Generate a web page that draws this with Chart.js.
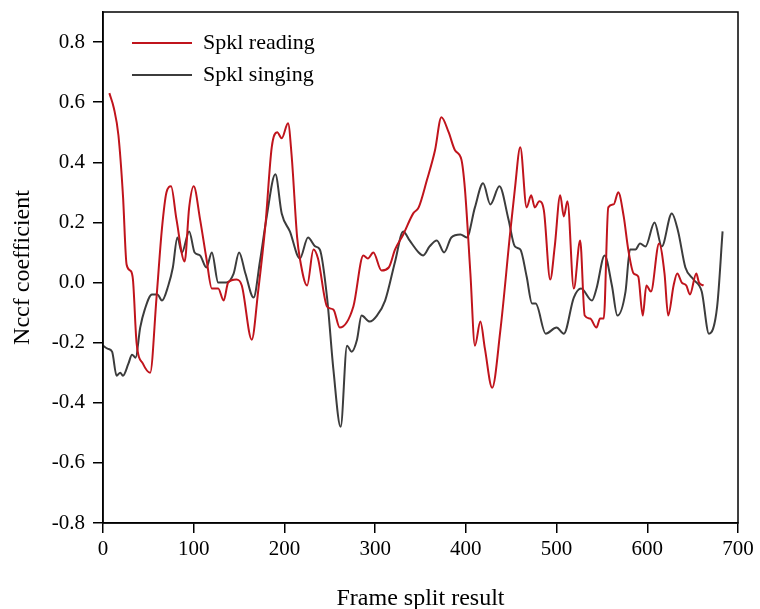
<!DOCTYPE html>
<html>
<head>
<meta charset="utf-8">
<script src="https://cdn.jsdelivr.net/npm/chart.js@4"></script>
<style>
  html, body { margin: 0; padding: 0; background: #fff; }
</style>
</head>
<body>
<canvas id="nccfChart" width="760" height="609"></canvas>
<script>
// frame index and Nccf values
var readingX = [7, 12, 17, 22, 26, 30, 33, 37, 44, 52, 59, 65, 70, 75, 81, 90, 95, 100, 107, 114,
  120, 127, 133, 138, 147, 153, 164, 171, 179, 186, 192, 197, 204, 208, 214, 217, 225, 232, 237, 247,
  254, 261, 276, 287, 292, 298, 307, 315, 322, 331, 342, 348, 357, 366, 373, 381, 388, 395, 399, 405,
  410, 416, 421, 429, 438, 449, 454, 460, 467, 472, 476, 481, 486, 493, 498, 504, 508, 512, 519, 526,
  531, 537, 544, 548, 552, 557, 563, 568, 574, 579, 585, 590, 595, 599, 604, 613, 619, 623, 629, 633,
  638, 643, 647, 654, 657, 662];
var readingY = [0.63, 0.58, 0.49, 0.29, 0.06, 0.04, 0.01, -0.20, -0.27, -0.30, -0.05, 0.18, 0.30, 0.32, 0.21, 0.07, 0.25, 0.32, 0.21, 0.08,
  -0.02, -0.02, -0.06, 0.00, 0.01, -0.01, -0.19, -0.03, 0.19, 0.45, 0.50, 0.48, 0.53, 0.42, 0.15, 0.08, -0.01, 0.11, 0.08, -0.08,
  -0.09, -0.15, -0.08, 0.09, 0.08, 0.10, 0.04, 0.05, 0.11, 0.16, 0.23, 0.25, 0.34, 0.44, 0.55, 0.50, 0.44, 0.41, 0.31, 0.03,
  -0.21, -0.13, -0.22, -0.35, -0.16, 0.17, 0.31, 0.45, 0.25, 0.29, 0.25, 0.27, 0.24, 0.01, 0.12, 0.29, 0.22, 0.27, -0.02, 0.14,
  -0.11, -0.12, -0.15, -0.12, -0.12, 0.25, 0.26, 0.30, 0.22, 0.11, 0.03, 0.02, -0.11, -0.01, -0.03, 0.13, 0.03, -0.11, -0.01, 0.03,
  0.00, -0.01, -0.04, 0.03, 0.00, -0.01];

var singingX = [0, 5, 10, 15, 19, 22, 28, 32, 36, 41, 46, 54, 60, 65, 72, 77, 82, 87, 95, 101,
  107, 114, 120, 127, 136, 144, 150, 157, 166, 173, 180, 190, 197, 206, 217, 226, 234, 239, 247, 254,
  262, 269, 274, 280, 285, 294, 302, 311, 322, 331, 338, 348, 353, 360, 368, 376, 384, 394, 401, 410,
  419, 427, 437, 447, 454, 460, 467, 473, 477, 488, 500, 508, 519, 527, 539, 544, 553, 561, 567, 576,
  581, 587, 592, 598, 608, 616, 627, 634, 642, 651, 660, 668, 677, 683];
var singingY = [-0.21, -0.22, -0.23, -0.31, -0.30, -0.31, -0.27, -0.24, -0.25, -0.15, -0.09, -0.04, -0.04, -0.06, -0.01, 0.05, 0.15, 0.10, 0.17, 0.10,
  0.09, 0.05, 0.10, 0.00, 0.00, 0.03, 0.10, 0.03, -0.05, 0.07, 0.21, 0.36, 0.23, 0.17, 0.08, 0.15, 0.12, 0.11, -0.05, -0.29,
  -0.48, -0.21, -0.23, -0.19, -0.11, -0.13, -0.11, -0.06, 0.07, 0.17, 0.14, 0.10, 0.09, 0.12, 0.14, 0.10, 0.15, 0.16, 0.15, 0.25,
  0.33, 0.26, 0.32, 0.21, 0.12, 0.11, 0.02, -0.07, -0.07, -0.17, -0.15, -0.17, -0.05, -0.02, -0.06, -0.02, 0.09, -0.01, -0.11, -0.03,
  0.11, 0.11, 0.13, 0.12, 0.20, 0.12, 0.23, 0.17, 0.05, 0.01, -0.03, -0.17, -0.08, 0.17];

var xTicks = [0, 100, 200, 300, 400, 500, 600, 700];
var yTicks = [-0.8, -0.6, -0.4, -0.2, 0.0, 0.2, 0.4, 0.6, 0.8];

const toPoints = (xs, ys) => xs.map((x, i) => ({ x: x, y: ys[i] }));

var serif = "'Liberation Serif', 'Times New Roman', serif";

// box round the plot, top and right sides included
const framePlugin = {
  id: 'frame',
  afterDraw(chart) {
    const a = chart.chartArea;
    const c = chart.ctx;
    c.save();
    c.strokeStyle = '#000';
    c.lineWidth = 1.5;
    c.strokeRect(a.left, a.top, a.right - a.left, a.bottom - a.top);
    c.restore();
  }
};

// nudge the in-plot legend away from the corner
const legendShift = {
  id: 'legendShift',
  afterLayout(chart) {
    if (chart.legend) {
      chart.legend.left += 19;
      chart.legend.top += 22;
    }
  }
};

new Chart(document.getElementById('nccfChart'), {
  type: 'line',
  data: {
    datasets: [{
      label: 'Spkl reading',
      data: toPoints(readingX, readingY),
      borderColor: '#c0141c',
      borderWidth: 2,
      pointRadius: 0,
      cubicInterpolationMode: 'monotone'
    }, {
      label: 'Spkl singing',
      data: toPoints(singingX, singingY),
      borderColor: '#3c3c3c',
      borderWidth: 2,
      pointRadius: 0,
      cubicInterpolationMode: 'monotone'
    }]
  },
  options: {
    responsive: false,
    animation: false,
    layout: { padding: { top: 12, right: 22, left: 0, bottom: 0 } },
    plugins: {
      legend: {
        position: 'chartArea',
        align: 'start',
        labels: {
          usePointStyle: true,
          pointStyle: 'line',
          pointStyleWidth: 60,
          padding: 10,
          color: '#000',
          font: { family: serif, size: 22 }
        }
      },
      tooltip: { enabled: false }
    },
    scales: {
      x: {
        type: 'linear',
        min: 0,
        max: 700,
        afterBuildTicks: (s) => { s.ticks = xTicks.map(v => ({ value: v })); },
        afterFit: (s) => { s.height = 86; },
        ticks: { color: '#000', padding: 4, font: { family: serif, size: 21 } },
        grid: { drawOnChartArea: false, drawTicks: true, tickLength: 10, color: '#000', lineWidth: 1.5 },
        border: { color: '#000', width: 1.5 },
        title: {
          display: true,
          text: 'Frame split result',
          color: '#000',
          padding: { top: 0, bottom: -2 },
          font: { family: serif, size: 24, lineHeight: 1 }
        }
      },
      y: {
        min: -0.8,
        max: 0.9,
        afterBuildTicks: (s) => { s.ticks = yTicks.map(v => ({ value: v })); },
        afterFit: (s) => { s.width = 103; s.paddingTop = 0; s.paddingBottom = 0; },
        ticks: {
          color: '#000',
          padding: 8,
          font: { family: serif, size: 21 },
          callback: (v) => v.toFixed(1)
        },
        grid: { drawOnChartArea: false, drawTicks: true, tickLength: 10, color: '#000', lineWidth: 1.5 },
        border: { color: '#000', width: 1.5 },
        title: {
          display: true,
          text: 'Nccf coefficient',
          color: '#000',
          padding: { top: 11, bottom: 0 },
          font: { family: serif, size: 24, lineHeight: 1 }
        }
      }
    }
  },
  plugins: [framePlugin, legendShift]
});
</script>
</body>
</html>
